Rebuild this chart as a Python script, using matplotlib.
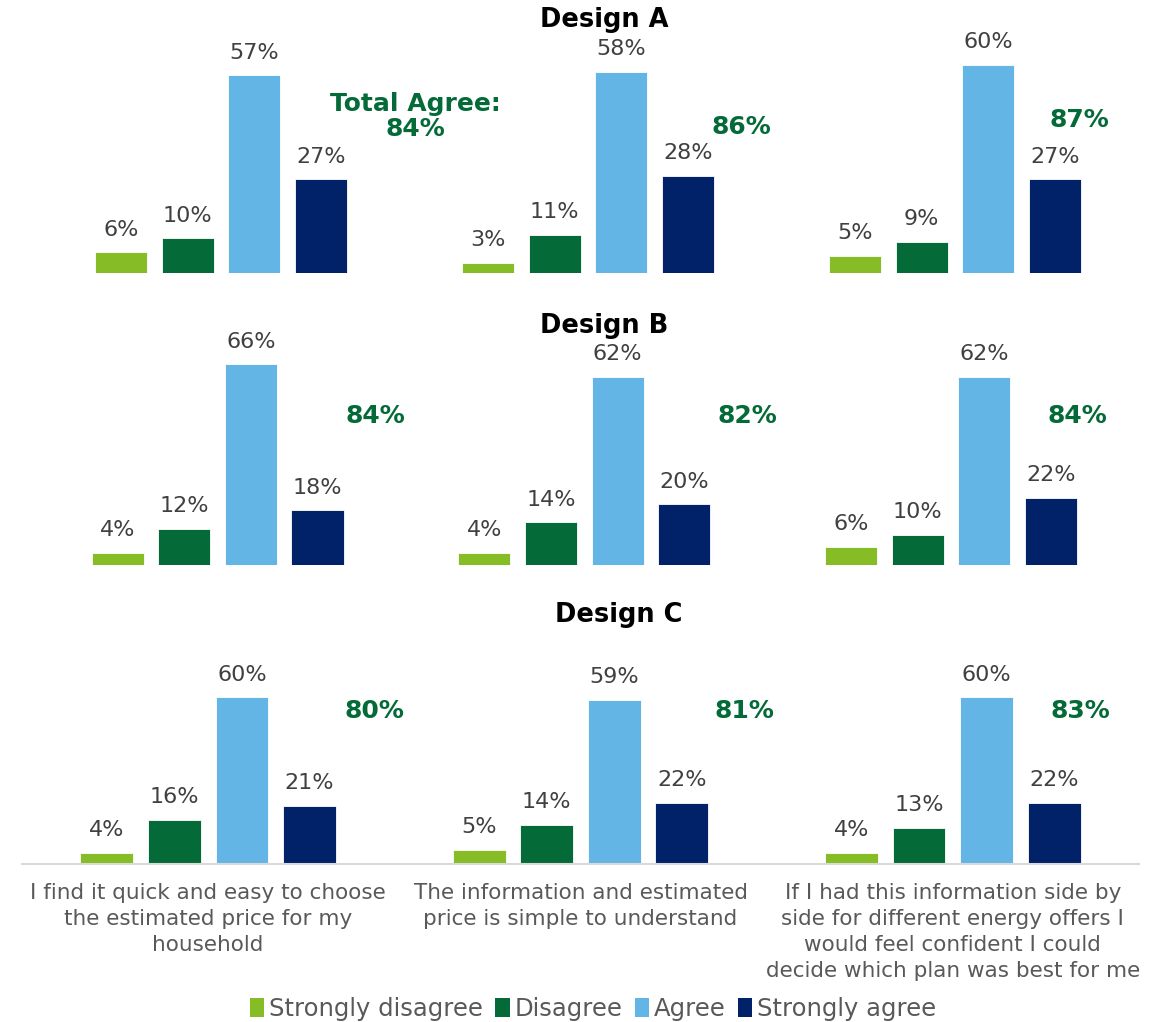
import numpy as np
import matplotlib.pyplot as plt
from matplotlib.patches import Patch

designs = ['Design A', 'Design B', 'Design C']
statements = [
    'I find it quick and easy to choose\nthe estimated price for my\nhousehold',
    'The information and estimated\nprice is simple to understand',
    'If I had this information side by\nside for different energy offers I\nwould feel confident I could\ndecide which plan was best for me',
]
responses = ['Strongly disagree', 'Disagree', 'Agree', 'Strongly agree']

# one row per design, one entry per statement
strongly_disagree = [[6, 3, 5], [4, 4, 6], [4, 5, 4]]
disagree = [[10, 11, 9], [12, 14, 10], [16, 14, 13]]
agree = [[57, 58, 60], [66, 62, 62], [60, 59, 60]]
strongly_agree = [[27, 28, 27], [18, 20, 22], [21, 22, 22]]
total_agree = [[84, 86, 87], [84, 82, 84], [80, 81, 83]]

colors = ['#86BC25', '#046A38', '#62B5E5', '#012169']
green_txt = '#046A38'
label_col = '#404040'
cat_col = '#595959'

W, H = 1156, 1022
fig = plt.figure(figsize=(W / 100, H / 100), dpi=100)

# plot areas in pixels: left, baseline, right, pixels per percent
rows = [(37.5, 273, 1138.5, 3.47),
        (34.3, 565, 1134.3, 3.04),
        (22, 864, 1139, 2.78)]
title_pos = [(604, 20), (604, 326), (619, 615)]
# where the total-agree figures sit: offset from group centre, height in %
total_pos = [[(0.53, 45), (0.417, 42), (0.338, 44)],
             [(0.43, 49), (0.445, 49), (0.344, 49)],
             [(0.446, 55), (0.44, 55), (0.342, 55)]]

ymax = 70
width = 0.142
step = 0.1816
x = np.arange(3)

for r in range(3):
    left, base, right, ppp = rows[r]
    ax = fig.add_axes([left / W, (H - base) / H, (right - left) / W, ymax * ppp / H])
    series = [strongly_disagree[r], disagree[r], agree[r], strongly_agree[r]]
    for i, vals in enumerate(series):
        xs = x + (i - 1.5) * step
        ax.bar(xs, vals, width, color=colors[i], edgecolor='white', linewidth=0.6)
        for xi, v in zip(xs, vals):
            ax.annotate(f'{v}%', (xi, v), xytext=(0, 12), textcoords='offset points',
                        ha='center', va='baseline', fontsize=16, color=label_col)
    for g in range(3):
        dx, yy = total_pos[r][g]
        txt = f'{total_agree[r][g]}%'
        if r == 0 and g == 0:
            txt = 'Total Agree:\n' + txt
        ax.text(g + dx, yy, txt, ha='center', va='center', fontsize=18,
                fontweight='bold', color=green_txt, linespacing=1.05)
    ax.set_xlim(-0.5, 2.5)
    ax.set_ylim(0, ymax)
    ax.set_yticks([])
    for s in ['top', 'left', 'right']:
        ax.spines[s].set_visible(False)
    if r == 2:
        ax.spines['bottom'].set_color('#D9D9D9')
        ax.spines['bottom'].set_linewidth(1.5)
        ax.set_xticks(x)
        ax.set_xticklabels(statements, fontsize=15.5, color=cat_col, linespacing=1.36)
        ax.tick_params(axis='x', length=0, pad=14)
    else:
        ax.spines['bottom'].set_visible(False)
        ax.set_xticks([])
    tx, ty = title_pos[r]
    fig.text(tx / W, 1 - ty / H, designs[r], ha='center', va='center',
             fontsize=18.5, fontweight='bold', color='black')

handles = [Patch(facecolor=c, edgecolor='none') for c in colors]
leg = fig.legend(handles, responses, loc='center', bbox_to_anchor=(593 / W, 1 - 1009 / H),
                 ncol=4, frameon=False, fontsize=17.5, handlelength=0.6, handleheight=0.8,
                 handletextpad=0.2, columnspacing=0.5, borderpad=0)
for t in leg.get_texts():
    t.set_color(cat_col)

fig.savefig('out.png', dpi=100)
